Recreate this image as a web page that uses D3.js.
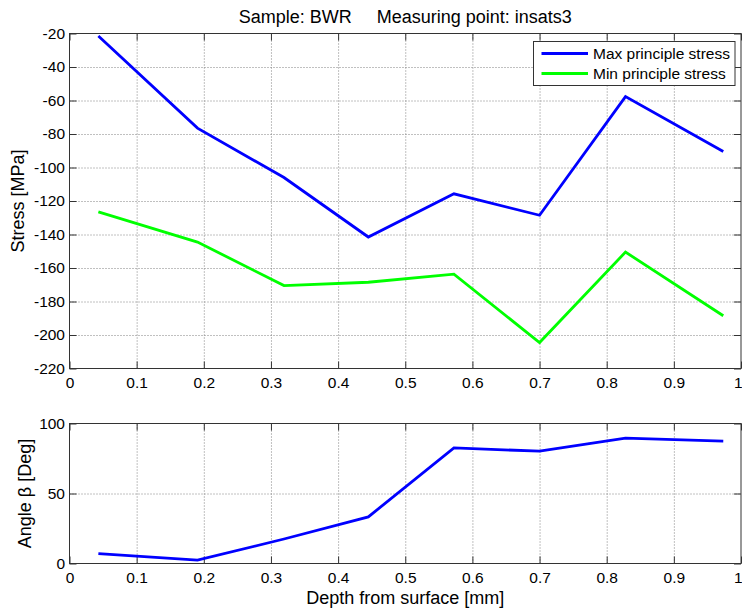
<!DOCTYPE html>
<html lang="en">

<head>
    <meta charset="UTF-8">
    <title>Stress vs depth</title>
    <script src="https://cdn.jsdelivr.net/npm/d3@7"></script>
    <style>
        body { margin: 0; background: #fff; }
        svg { display: block; font-family: "Liberation Sans", Arial, sans-serif; }
        .grid line { stroke: #808080; stroke-dasharray: 1, 2; }
    </style>
</head>

<body>
    <svg width="742" height="611"></svg>
    <script>
        // depth of each measurement [mm]
        var depth = [0.043, 0.1906, 0.3194, 0.445, 0.5725, 0.700, 0.828, 0.9736]
        var maxStress = [-21.5, -76.5, -106, -141.5, -115.7, -128.5, -57.7, -90.5]
        var minStress = [-126.5, -144.5, -170.5, -168.5, -163.7, -204.5, -150.5, -188.5]
        var angle = [7, 2.4, 17.5, 33.3, 82.6, 80.2, 89.6, 87.4]

        var xTicks = [0, 0.1, 0.2, 0.3, 0.4, 0.5, 0.6, 0.7, 0.8, 0.9, 1]
        var stressTicks = [-220, -200, -180, -160, -140, -120, -100, -80, -60, -40, -20]
        var angleTicks = [0, 50, 100]

        var svg = d3.select('svg')
        var left = 69.5, right = 741
        var tickLen = 7
        var fontFam = '"Liberation Sans", Arial, sans-serif'

        var x = d3.scaleLinear().domain([0, 1]).range([left, right])

        // draws one MATLAB style axes box, returns the plot group and y scale
        function panel(y0, y1, yDomain, yTicks) {
            var y = d3.scaleLinear().domain(yDomain).range([y1, y0])
            var h = y1 - y0
            var g = svg.append('g')

            // grid
            g.append('g').attr('class', 'grid')
                .attr('transform', 'translate(0,' + y1 + ')')
                .call(d3.axisBottom(x).tickValues(xTicks.slice(1, -1)).tickSize(-h).tickFormat(''))
                .call(function (s) { s.select('.domain').remove() })
            g.append('g').attr('class', 'grid')
                .attr('transform', 'translate(' + left + ',0)')
                .call(d3.axisLeft(y).tickValues(yTicks.slice(1, -1)).tickSize(-(right - left)).tickFormat(''))
                .call(function (s) { s.select('.domain').remove() })

            // ticks inside on all four sides
            var ax = g.append('g').attr('class', 'axes')
            var xb = ax.append('g').attr('transform', 'translate(0,' + y1 + ')')
                .call(d3.axisBottom(x).tickValues(xTicks).tickSize(-tickLen).tickPadding(8)
                    .tickFormat(function (d) { return String(d) }))
            // last label sits on the window edge, keep it inside
            xb.selectAll('.tick text').filter(function (d) { return d === 1 })
                .attr('text-anchor', 'end').attr('x', 1)
            ax.append('g').attr('transform', 'translate(0,' + y0 + ')')
                .call(d3.axisTop(x).tickValues(xTicks).tickSize(-tickLen).tickFormat(''))
            ax.append('g').attr('transform', 'translate(' + left + ',0)')
                .call(d3.axisLeft(y).tickValues(yTicks).tickSize(-tickLen).tickPadding(4.5)
                    .tickFormat(function (d) { return String(d) }))
            ax.append('g').attr('transform', 'translate(' + right + ',0)')
                .call(d3.axisRight(y).tickValues(yTicks).tickSize(-tickLen).tickFormat(''))
            ax.selectAll('.domain').remove()
            ax.selectAll('.tick line').attr('stroke', '#333')
            ax.selectAll('g').attr('font-size', 15.5).attr('font-family', fontFam)

            g.append('rect')
                .attr('x', left).attr('y', y0)
                .attr('width', right - left).attr('height', h)
                .attr('fill', 'none').attr('stroke', '#333')

            return { g: g, y: y }
        }

        function series(p, values, color) {
            var line = d3.line()
                .x(function (d, i) { return x(depth[i]) })
                .y(function (d) { return p.y(d) })
            p.g.append('path')
                .datum(values)
                .attr('d', line)
                .attr('fill', 'none')
                .attr('stroke', color)
                .attr('stroke-width', 2.8)
        }

        // top panel: principal stresses
        var stressPanel = panel(33.5, 368.5, [-220, -20], stressTicks)
        series(stressPanel, maxStress, '#0000ff')
        series(stressPanel, minStress, '#00ff00')

        // bottom panel: angle
        var anglePanel = panel(423.5, 563.5, [0, 100], angleTicks)
        series(anglePanel, angle, '#0000ff')

        // title and labels
        svg.append('text')
            .attr('x', (left + right) / 2).attr('y', 23)
            .attr('text-anchor', 'middle')
            .attr('font-size', 18)
            .style('white-space', 'pre')
            .text('Sample: BWR     Measuring point: insats3')

        svg.append('text')
            .attr('transform', 'translate(24,' + 201 + ') rotate(-90)')
            .attr('text-anchor', 'middle')
            .attr('font-size', 18)
            .text('Stress [MPa]')

        svg.append('text')
            .attr('transform', 'translate(31,' + 493.5 + ') rotate(-90)')
            .attr('text-anchor', 'middle')
            .attr('font-size', 18)
            .text('Angle β [Deg]')

        svg.append('text')
            .attr('x', (left + right) / 2).attr('y', 604)
            .attr('text-anchor', 'middle')
            .attr('font-size', 18)
            .text('Depth from surface [mm]')

        // legend
        var legendItems = ['Max principle stress', 'Min principle stress']
        var legendColors = ['#0000ff', '#00ff00']
        var lg = svg.append('g')
        lg.append('rect')
            .attr('x', 533.5).attr('y', 41.5).attr('width', 201.5).attr('height', 44)
            .attr('fill', '#fff').attr('stroke', '#333')
        legendItems.forEach(function (name, i) {
            var ly = 53.5 + i * 20
            lg.append('line')
                .attr('x1', 541.5).attr('x2', 588).attr('y1', ly).attr('y2', ly)
                .attr('stroke', legendColors[i]).attr('stroke-width', 2.8)
            lg.append('text')
                .attr('x', 593).attr('y', ly + 5.5)
                .attr('font-size', 15.5)
                .text(name)
        })
    </script>
</body>

</html>
